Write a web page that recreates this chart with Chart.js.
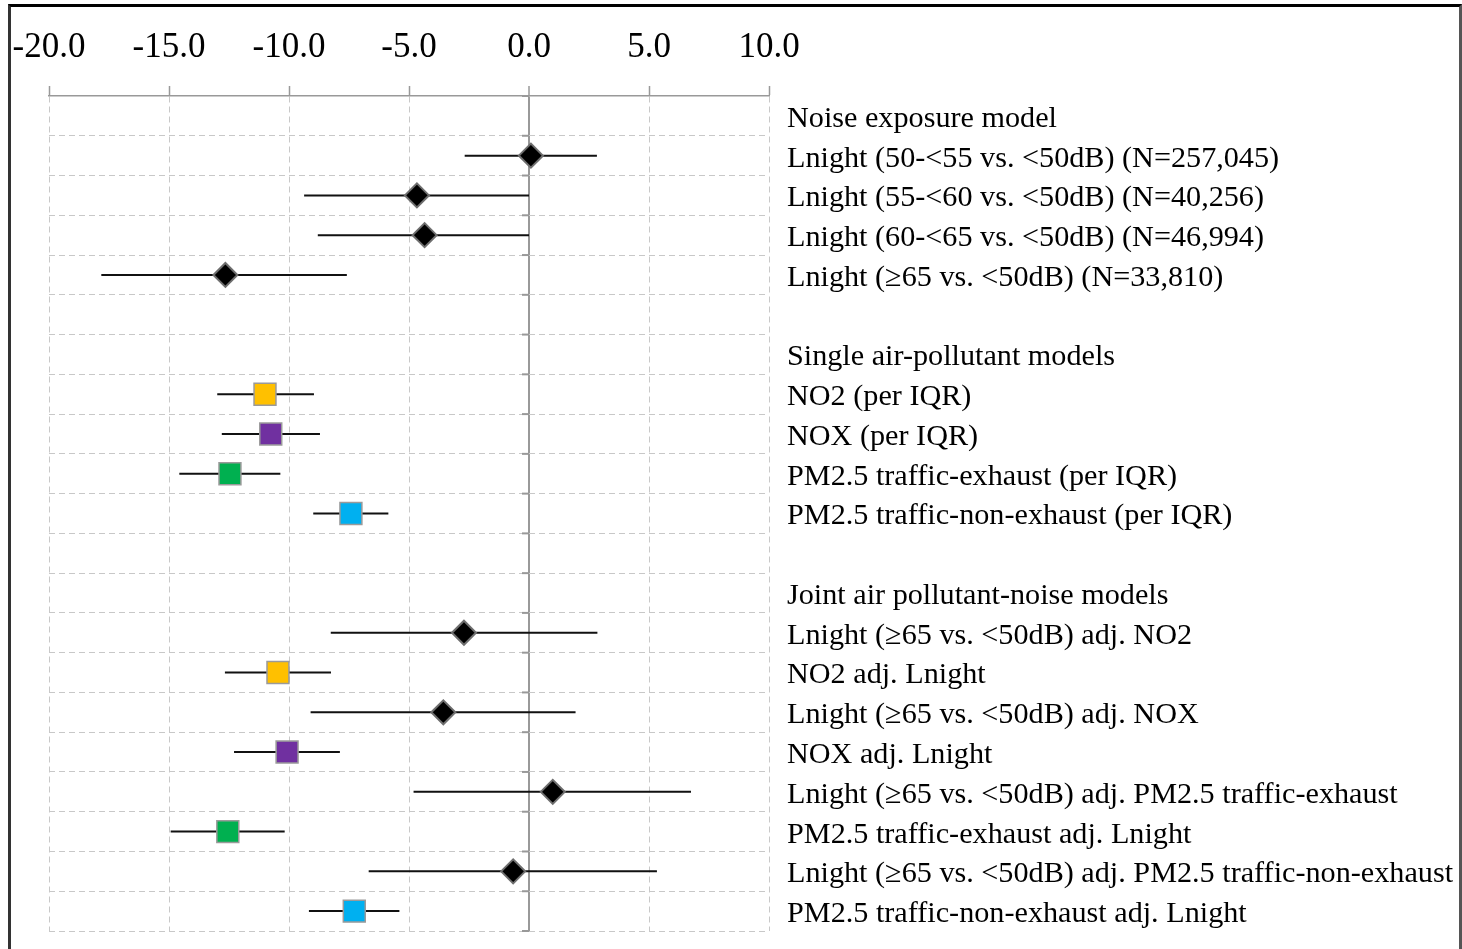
<!DOCTYPE html>
<html>
<head>
<meta charset="utf-8">
<script src="https://cdn.jsdelivr.net/npm/chart.js@4/dist/chart.umd.min.js"></script>
<style>
  body { margin: 0; background: #fff; }
  #wrap { position: relative; width: 1462px; height: 949px; overflow: hidden; }
  #frame {
    position: absolute; left: 8px; top: 4px; width: 1448px; height: 1000px;
    border-top: 3px solid #000; border-left: 3px solid #333; border-right: 3px solid #555;
    pointer-events: none;
  }
</style>
</head>
<body>
<div id="wrap">
  <canvas id="forest" width="1462" height="949"></canvas>
  <div id="frame"></div>
</div>
<script>
// one entry per row, top to bottom
const rowLabels = [
  "Noise exposure model",
  "Lnight (50-<55 vs. <50dB) (N=257,045)",
  "Lnight (55-<60 vs. <50dB) (N=40,256)",
  "Lnight (60-<65 vs. <50dB) (N=46,994)",
  "Lnight (\u226565 vs. <50dB) (N=33,810)",
  "",
  "Single air-pollutant models",
  "NO2 (per IQR)",
  "NOX (per IQR)",
  "PM2.5 traffic-exhaust (per IQR)",
  "PM2.5 traffic-non-exhaust (per IQR)",
  " ",
  "Joint air pollutant-noise models",
  "Lnight (\u226565 vs. <50dB) adj. NO2",
  "NO2 adj. Lnight",
  "Lnight (\u226565 vs. <50dB) adj. NOX",
  "NOX adj. Lnight",
  "Lnight (\u226565 vs. <50dB) adj. PM2.5 traffic-exhaust",
  "PM2.5 traffic-exhaust adj. Lnight",
  "Lnight (\u226565 vs. <50dB) adj. PM2.5 traffic-non-exhaust",
  "PM2.5 traffic-non-exhaust adj. Lnight"
];
const exposure = [null, "noise", "noise", "noise", "noise", null, null, "no2", "nox", "exhaust", "nonexhaust", null, null,
  "noise", "no2", "noise", "nox", "noise", "exhaust", "noise", "nonexhaust"];
const estimate = [null, 0.08, -4.67, -4.35, -12.65, null, null, -11.0, -10.76, -12.46, -7.42, null, null,
  -2.71, -10.46, -3.57, -10.08, 0.99, -12.55, -0.66, -7.28];
const lower = [null, -2.68, -9.37, -8.8, -17.82, null, null, -12.99, -12.8, -14.57, -8.99, null, null,
  -8.26, -12.67, -9.1, -12.29, -4.81, -14.93, -6.68, -9.17];
const upper = [null, 2.83, 0.0, 0.0, -7.59, null, null, -8.96, -8.71, -10.36, -5.86, null, null,
  2.85, -8.25, 1.94, -7.88, 6.75, -10.18, 5.33, -5.4];
const xTicks = [-20, -15, -10, -5, 0, 5, 10];

const colors = { noise: "#000000", no2: "#FFC000", nox: "#7030A0", exhaust: "#00B050", nonexhaust: "#00B0F0" };
const serif = "'Liberation Serif', 'Times New Roman', serif";

function markerSet(kind) {
  const pts = [];
  estimate.forEach((v, i) => { if (exposure[i] === kind) pts.push({ x: v, y: i }); });
  const diamond = kind === "noise";
  return {
    label: kind,
    data: pts,
    pointStyle: diamond ? "rectRot" : "rect",
    pointRadius: diamond ? 12 : 15.5,
    pointHoverRadius: diamond ? 12 : 15.5,
    backgroundColor: colors[kind],
    borderColor: diamond ? "#6e6e6e" : "#9a9a9a",
    borderWidth: diamond ? 2 : 1.5,
    showLine: false
  };
}

const ciPoints = [];
lower.forEach((lo, i) => {
  if (lo === null) return;
  ciPoints.push({ x: lo, y: i }, { x: upper[i], y: i }, { x: null, y: null });
});

const zeroTicks = {
  id: "zeroTicks",
  beforeDatasetsDraw(chart) {
    const { ctx } = chart;
    const x0 = chart.scales.x.getPixelForValue(0);
    const y = chart.scales.y;
    ctx.save();
    ctx.strokeStyle = "#999";
    ctx.lineWidth = 2;
    for (let i = 0; i <= rowLabels.length; i++) {
      const py = y.getPixelForValue(i - 0.5);
      ctx.beginPath();
      ctx.moveTo(x0 - 7, py);
      ctx.lineTo(x0, py);
      ctx.stroke();
    }
    ctx.restore();
  }
};

new Chart(document.getElementById("forest"), {
  type: "scatter",
  data: {
    datasets: [
      markerSet("noise"), markerSet("no2"), markerSet("nox"), markerSet("exhaust"), markerSet("nonexhaust"),
      {
        label: "ci",
        data: ciPoints,
        showLine: true,
        spanGaps: false,
        borderColor: "#111",
        borderWidth: 2,
        pointRadius: 0,
        pointHoverRadius: 0
      }
    ]
  },
  options: {
    responsive: false,
    animation: false,
    events: [],
    layout: { padding: { left: 49, top: 0, right: 0, bottom: 18 } },
    plugins: { legend: { display: false }, tooltip: { enabled: false } },
    scales: {
      x: {
        type: "linear",
        position: "top",
        min: -20,
        max: 10,
        afterBuildTicks: s => { s.ticks = xTicks.map(v => ({ value: v })); },
        afterFit: s => { s.height = 96; s.paddingLeft = 0; s.paddingRight = 0; },
        ticks: {
          callback: v => v.toFixed(1),
          font: { family: serif, size: 35 },
          color: "#000",
          padding: 17,
          maxRotation: 0
        },
        grid: {
          color: c => (c.tick && c.tick.value === 0 ? "#999" : "#c8c8c8"),
          lineWidth: c => (c.tick && c.tick.value === 0 ? 2 : 1),
          tickColor: "#999",
          tickLength: 10,
          tickWidth: 1.5
        },
        border: {
          display: true,
          color: "#999",
          width: 1.5,
          dash: c => (c.tick && c.tick.value === 0 ? [] : [6, 4])
        }
      },
      y: {
        type: "linear",
        display: false,
        min: -0.5,
        max: 20.5,
        reverse: true
      },
      rows: {
        type: "category",
        labels: rowLabels,
        position: "right",
        offset: true,
        afterFit: s => { s.width = 693; s.paddingTop = 0; s.paddingBottom = 0; },
        ticks: {
          autoSkip: false,
          font: { family: serif, size: 30.2 },
          color: "#000",
          padding: 18,
          labelOffset: 3
        },
        grid: {
          offset: true,
          drawTicks: false,
          color: c => (c.index === 0 ? "rgba(0,0,0,0)" : "#c8c8c8"),
          lineWidth: 1
        },
        border: { display: false, dash: [6, 4] }
      }
    }
  },
  plugins: [zeroTicks]
});
</script>
</body>
</html>
